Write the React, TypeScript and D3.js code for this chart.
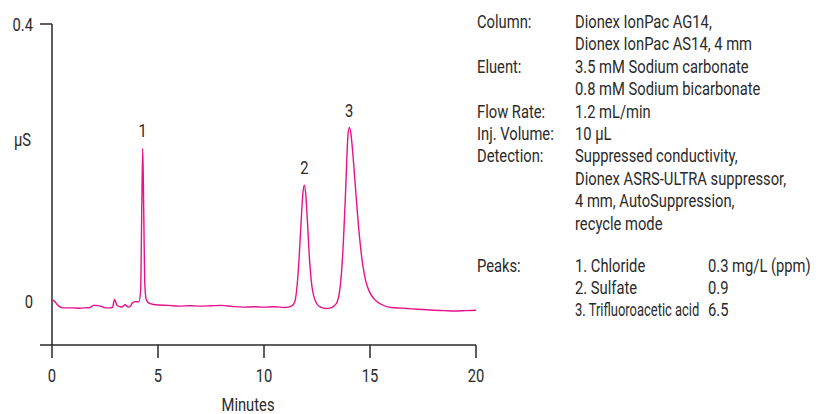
import React from 'react';
import * as d3 from 'd3';

// chromatogram trace: [minutes, µS]
const trace: [number, number][] = [
  [0, 0.003], [0.1, 0.0015], [0.25, -0.004], [0.5, -0.0085], [0.8, -0.0085],
  [1.0, -0.0085], [1.3, -0.009], [1.6, -0.0085], [1.8, -0.008], [1.95, -0.005],
  [2.1, -0.0052], [2.3, -0.006], [2.5, -0.0085], [2.7, -0.0085], [2.85, -0.008],
  [2.95, 0.0035], [3.05, -0.004], [3.15, -0.0065], [3.3, -0.0072], [3.45, -0.004],
  [3.6, -0.0075], [3.7, -0.006], [3.8, -0.001], [3.95, 0.0005], [4.1, 0.0],
  [4.18, 0.017], [4.24, 0.147], [4.28, 0.221], [4.32, 0.147], [4.38, 0.024],
  [4.45, 0.003], [4.6, -0.002], [5.0, -0.0045], [5.5, -0.005], [6.0, -0.006],
  [6.5, -0.0055], [7.0, -0.006], [7.5, -0.0055], [8.0, -0.005], [8.5, -0.0065],
  [9.0, -0.0075], [9.5, -0.007], [10.0, -0.0075], [10.5, -0.007], [11.0, -0.008],
  [11.3, -0.006], [11.45, 0.0], [11.55, 0.02], [11.65, 0.06], [11.75, 0.115],
  [11.83, 0.155], [11.9, 0.168], [11.97, 0.155], [12.05, 0.115], [12.15, 0.06],
  [12.25, 0.025], [12.35, 0.008], [12.5, -0.003], [12.7, -0.008], [12.9, -0.0095],
  [13.1, -0.009], [13.3, -0.006], [13.45, 0.0], [13.55, 0.012], [13.65, 0.04],
  [13.75, 0.09], [13.85, 0.16], [13.95, 0.235], [14.02, 0.251], [14.1, 0.242],
  [14.2, 0.21], [14.35, 0.15], [14.5, 0.095], [14.65, 0.055], [14.8, 0.03],
  [15.0, 0.013], [15.2, 0.004], [15.5, -0.003], [16.0, -0.008], [16.5, -0.009],
  [17.0, -0.01], [17.5, -0.011], [18.0, -0.012], [18.5, -0.0125], [19.0, -0.013],
  [19.5, -0.0125], [20.0, -0.012],
];

const peakLabels = ['1', '2', '3'];
const peakTimes = [4.28, 11.9, 14.02];
const peakHeights = [0.221, 0.168, 0.251];

const xTicks = [0, 5, 10, 15, 20];
const yTicks = [0, 0.4];

const condLabels = ['Column:', '', 'Eluent:', '', 'Flow Rate:', 'Inj. Volume:', 'Detection:', '', '', ''];
const condValues = [
  'Dionex IonPac AG14,',
  'Dionex IonPac AS14, 4 mm',
  '3.5 mM Sodium carbonate',
  '0.8 mM Sodium bicarbonate',
  '1.2 mL/min',
  '10 µL',
  'Suppressed conductivity,',
  'Dionex ASRS-ULTRA suppressor,',
  '4 mm, AutoSuppression,',
  'recycle mode',
];
const peakNames = ['1. Chloride', '2. Sulfate', '3. Trifluoroacetic acid'];
const peakAmounts = ['0.3 mg/L (ppm)', '0.9', '6.5'];

const W = 823, H = 414;
const ink = '#2a2a2a';
const squeeze = 0.82; // the original uses a condensed face

// condensed-looking text
const T = ({ x, y, anchor = 'start', size = 18, sx = squeeze, children }:
  { x: number; y: number; anchor?: string; size?: number; sx?: number; children: React.ReactNode }) => (
  <text transform={`translate(${x},${y}) scale(${sx},1)`} textAnchor={anchor} fontSize={size}>
    {children}
  </text>
);

export default function App() {
  const x = d3.scaleLinear().domain([0, 20]).range([52, 476]);
  const y = d3.scaleLinear().domain([-0.062, 0.4]).range([345, 24]);
  const line = d3.line<[number, number]>()
    .x(d => x(d[0]))
    .y(d => y(d[1]))
    .curve(d3.curveMonotoneX);
  const bottom = y.range()[0];

  return (
    <svg width={W} height={H} style={{ position: 'absolute', left: 0, top: 0 }}
      fontFamily="Roboto, sans-serif" fill={ink}>
      {/* axes */}
      <line x1={x(0)} x2={x(0)} y1={y(0.4)} y2={bottom} stroke={ink} strokeWidth={1.5} />
      <line x1={40} x2={x(20)} y1={bottom} y2={bottom} stroke={ink} strokeWidth={1.5} />
      <line x1={40} x2={x(0)} y1={y(0.4)} y2={y(0.4)} stroke={ink} strokeWidth={1.5} />
      {xTicks.map(t => (
        <g key={t}>
          <line x1={x(t)} x2={x(t)} y1={bottom} y2={bottom + 13} stroke={ink} strokeWidth={1.5} />
          <T x={x(t)} y={382} anchor="middle">{t}</T>
        </g>
      ))}
      {yTicks.map(t => (
        <T key={t} x={33} y={y(t) + 6.5} anchor="end">{t}</T>
      ))}
      <T x={31} y={146} anchor="end">µS</T>
      <T x={248} y={411} anchor="middle">Minutes</T>

      {/* trace */}
      <path d={line(trace) ?? ''} fill="none" stroke="#e8118a" strokeWidth={1.4} />
      {peakLabels.map((p, i) => (
        <T key={p} x={x(peakTimes[i])} y={y(peakHeights[i]) - 11} anchor="middle">{p}</T>
      ))}

      {/* conditions */}
      {condValues.map((v, i) => (
        <g key={i}>
          {condLabels[i] && <T x={477} y={28 + i * 22.4}>{condLabels[i]}</T>}
          <T x={575} y={28 + i * 22.4}>{v}</T>
        </g>
      ))}
      <T x={477} y={271.5}>Peaks:</T>
      {peakNames.map((n, i) => (
        <g key={n}>
          <T x={575} y={271.5 + i * 22.4} sx={i === 2 ? 0.72 : squeeze}>{n}</T>
          <T x={708} y={271.5 + i * 22.4}>{peakAmounts[i]}</T>
        </g>
      ))}
    </svg>
  );
}
